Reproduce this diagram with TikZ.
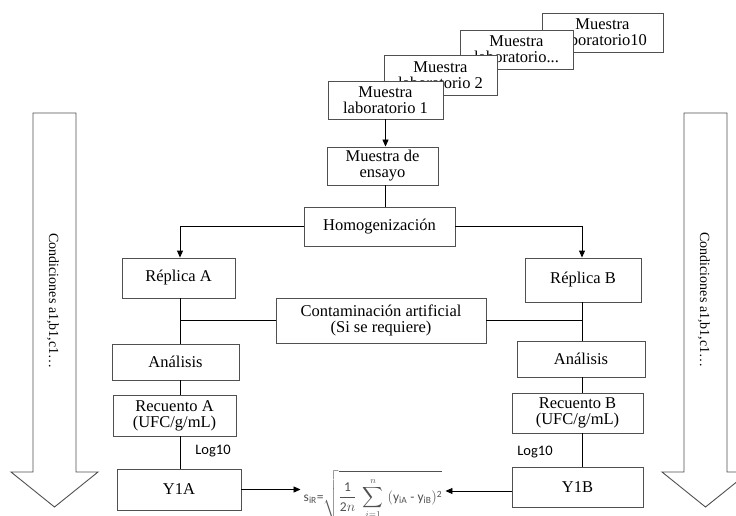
\documentclass[tikz,border=0pt]{standalone}
\usepackage{fontspec}
\usepackage{amsmath}
\setmainfont{Liberation Serif}
\newfontfamily\calibrifont{Carlito}
\usetikzlibrary{arrows.meta,calc}
\newcommand\fm[1]{\text{\calibrifont #1}}
\definecolor{boxgray}{HTML}{505050}
\definecolor{formgray}{HTML}{505050}

\begin{document}
\begin{tikzpicture}[x=1pt,y=-1pt,
  box/.style={draw=boxgray, line width=0.9pt, fill=white, align=center,
    inner sep=0pt, font=\fontsize{16.5}{16}\selectfont},
  link/.style={draw=black, line width=0.9pt},
  arr/.style={link, -{Triangle[length=7pt,width=6pt]}},
  bigarrow/.style={draw=boxgray, line width=0.9pt, fill=white},
  cond/.style={rotate=-90, font=\fontsize{14}{16}\selectfont},
  logtxt/.style={font=\calibrifont\fontsize{14.5}{16}\selectfont}]

\clip (0,0) rectangle (736,516);

% side arrows for the test conditions
\draw[bigarrow] (33,113) -- (76,113) -- (76,472) -- (98,472) -- (54.5,507)
  -- (11,472) -- (33,472) -- cycle;
\draw[bigarrow] (684,113) -- (727,113) -- (727,472) -- (749,472) -- (705.5,507)
  -- (662,472) -- (684,472) -- cycle;
\node[cond] (condL) at (53,301) {Condiciones a1,b1,c1…};
\node[cond] (condR) at (704,300) {Condiciones a1,b1,c1…};

% stacked laboratory samples, back to front
\node[box, minimum width=121, minimum height=39] (lab10) at (602.5,32.5) {Muestra\\laboratorio10};
\node[box, minimum width=113, minimum height=39] (labn) at (516.5,49.5) {Muestra\\laboratorio...};
\node[box, minimum width=113, minimum height=40] (lab2) at (440.5,75) {Muestra\\laboratorio 2};
\node[box, minimum width=115, minimum height=38] (lab1) at (385.5,100) {Muestra\\laboratorio 1};

% main flow
\node[box, minimum width=111, minimum height=38] (ensayo) at (382.5,166) {Muestra de\\ensayo};
\node[box, minimum width=151, minimum height=39] (homog) at (379.5,226.5) {Homogenización};
\node[box, minimum width=113, minimum height=40] (repA) at (178.5,278) {Réplica A};
\node[box, minimum width=116, minimum height=44] (repB) at (583,280) {Réplica B};
\node[box, minimum width=210, minimum height=45] (contam) at (381,320.5)
  {Contaminación artificial\\(Si se requiere)};
\node[box, minimum width=127, minimum height=36] (anaA) at (175.5,362) {Análisis};
\node[box, minimum width=128, minimum height=36] (anaB) at (581,359) {Análisis};
\node[box, minimum width=123, minimum height=41] (recA) at (174.5,415.5) {Recuento A\\(UFC/g/mL)};
\node[box, minimum width=131, minimum height=40] (recB) at (577.5,413) {Recuento B\\(UFC/g/mL)};
\node[box, minimum width=124, minimum height=41] (y1a) at (179,489.5) {Y1A};
\node[box, minimum width=131, minimum height=40] (y1b) at (577.5,487) {Y1B};

\node[logtxt] (logA) at (213,451) {Log10};
\node[logtxt] (logB) at (535,452) {Log10};

\node[text=formgray, inner sep=3pt] (sir) at (373,497)
  {\fontsize{13.5}{15}\selectfont$\displaystyle \fm{s}_{\fm{iR}}\fm{=}\sqrt{\frac{\fm{1}}{\fm{2}n}\;\sum_{i=1}^{n}\;(\fm{y}_{\fm{iA}}\fm{ - }\fm{y}_{\fm{iB}})^{\fm{2}}}$};

% column lines
\coordinate (colA) at (180,0);
\coordinate (colB) at (582,0);

% connectors
\draw[arr] (lab1.south) -- (lab1.south |- ensayo.north);
\draw[link] (ensayo.south -| lab1.south) -- (homog.north -| lab1.south);
\draw[arr] (homog.west) -| (repA.north -| colA);
\draw[arr] (homog.east) -| (repB.north -| colB);
\draw[link] (repA.south -| colA) -- (anaA.north -| colA);
\draw[link] (repB.south -| colB) -- (anaB.north -| colB);
\draw[link] (contam.west) -- (contam.west -| colA);
\draw[link] (contam.east) -- (contam.east -| colB);
\draw[link] (anaA.south -| colA) -- (recA.north -| colA);
\draw[link] (anaB.south -| colB) -- (recB.north -| colB);
\draw[link] (recA.south -| colA) -- (y1a.north -| colA);
\draw[link] (recB.south -| colB) -- (y1b.north -| colB);
\draw[arr] (y1a.east) -- (y1a.east -| sir.west);
\draw[arr] ($(y1b.west)+(0,4)$) -- ($(y1b.west -| sir.east)+(0,4)$);
\end{tikzpicture}
\end{document}
